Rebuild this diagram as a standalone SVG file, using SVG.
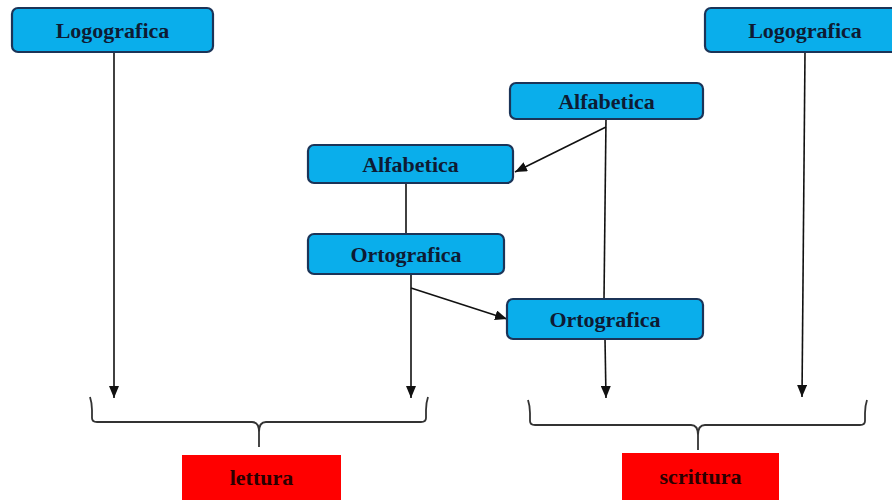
<svg xmlns="http://www.w3.org/2000/svg" width="892" height="500" viewBox="0 0 892 500">
<defs>
<style>
.box{fill:#0AAEEB;stroke:#1B3458;stroke-width:2.2}
.lbl{font-family:"Liberation Serif",serif;font-weight:bold;font-size:22px;fill:#0E1B33;text-anchor:middle}
.red{fill:#FF0000}
.rl{font-family:"Liberation Serif",serif;font-weight:bold;font-size:22px;fill:#2A0000;text-anchor:middle}
.ln{stroke:#111;stroke-width:1.6;fill:none}
.br{stroke:#333;stroke-width:1.8;fill:none}
</style>
<marker id="ah" viewBox="0 0 12 10" refX="12" refY="5" markerWidth="12" markerHeight="10" markerUnits="userSpaceOnUse" orient="auto">
<path d="M0,0 L12,5 L0,10 Z" fill="#111"/>
</marker>
</defs>
<rect width="892" height="500" fill="#fff"/>
<g id="connectors">
<line class="ln" x1="114" y1="52" x2="114" y2="398" marker-end="url(#ah)"/>
<line class="ln" x1="805" y1="52" x2="802" y2="397" marker-end="url(#ah)"/>
<line class="ln" x1="606" y1="119" x2="604" y2="299"/>
<line class="ln" x1="606" y1="127" x2="515" y2="172" marker-end="url(#ah)"/>
<line class="ln" x1="406" y1="183" x2="406" y2="234"/>
<line class="ln" x1="411" y1="274" x2="411" y2="398" marker-end="url(#ah)"/>
<line class="ln" x1="411" y1="288" x2="507" y2="319" marker-end="url(#ah)"/>
<line class="ln" x1="605" y1="339" x2="606" y2="398" marker-end="url(#ah)"/>
</g>
<g id="brace-lettura">
<path class="br" d="M90,397 Q92,403 92,410 L92,418 Q92,422 97,422 L252,422 Q259,422 259,432 L259,447 M259,432 Q259,422 266,422 L421,422 Q426,422 426,418 L426,410 Q426,403 428,397"/>
</g>
<g id="brace-scrittura">
<path class="br" d="M528,400 Q530,406 530,413 L530,421 Q530,425 535,425 L691,425 Q698,425 698,435 L698,450 M698,435 Q698,425 705,425 L860,425 Q865,425 865,421 L865,413 Q865,406 867,400"/>
</g>
<g id="logografica-l">
<rect class="box" x="12" y="8" width="201" height="44" rx="6"/>
<text class="lbl" x="112.5" y="38">Logografica</text>
</g>
<g id="logografica-r">
<rect class="box" x="705" y="8" width="200" height="44" rx="6"/>
<text class="lbl" x="805" y="38">Logografica</text>
</g>
<g id="alfabetica-r">
<rect class="box" x="510" y="83" width="193" height="36" rx="6"/>
<text class="lbl" x="606.5" y="109">Alfabetica</text>
</g>
<g id="alfabetica-l">
<rect class="box" x="308" y="145" width="205" height="38" rx="6"/>
<text class="lbl" x="410.5" y="172">Alfabetica</text>
</g>
<g id="ortografica-l">
<rect class="box" x="308" y="234" width="196" height="40" rx="6"/>
<text class="lbl" x="406" y="262">Ortografica</text>
</g>
<g id="ortografica-r">
<rect class="box" x="507" y="299" width="196" height="40" rx="6"/>
<text class="lbl" x="605" y="327">Ortografica</text>
</g>
<g id="lettura">
<rect class="red" x="182" y="455" width="159" height="50"/>
<text class="rl" x="261.5" y="485">lettura</text>
</g>
<g id="scrittura">
<rect class="red" x="622" y="453" width="157" height="50"/>
<text class="rl" x="700.5" y="484">scrittura</text>
</g>
</svg>
